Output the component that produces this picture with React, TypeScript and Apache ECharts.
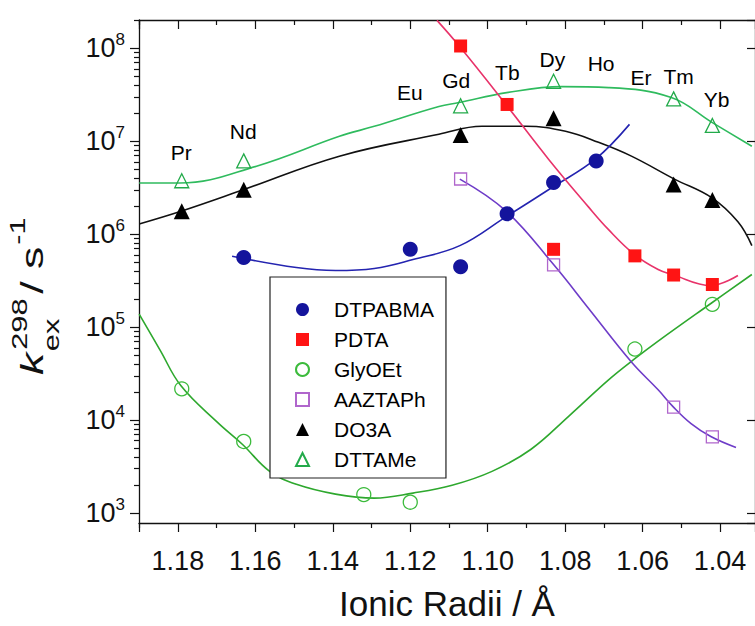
import React, { useEffect, useRef } from "react";
import * as echarts from "echarts";

// ---------- data ----------
const labelNames = ["Pr", "Nd", "Eu", "Gd", "Tb", "Dy", "Ho", "Er", "Tm", "Yb"];
const labelRadii = [1.179, 1.163, 1.12, 1.108, 1.0948, 1.0832, 1.0706, 1.0603, 1.0506, 1.0408];
const labelY = [7.45e6, 1.25e7, 3.34e7, 4.49e7, 5.47e7, 7.54e7, 6.83e7, 4.83e7, 4.95e7, 2.81e7];

const dtpabmaX = [1.163, 1.12, 1.107, 1.095, 1.083, 1.072];
const dtpabmaY = [5.61e5, 6.88e5, 4.46e5, 1.66e6, 3.6e6, 6.15e6];
const pdtaX = [1.107, 1.095, 1.083, 1.062, 1.052, 1.042];
const pdtaY = [1.06e8, 2.49e7, 6.88e5, 5.85e5, 3.64e5, 2.88e5];
const glyX = [1.179, 1.163, 1.132, 1.12, 1.062, 1.042];
const glyY = [2.17e4, 5.89e3, 1.58e3, 1.31e3, 5.82e4, 1.76e5];
const aazX = [1.107, 1.083, 1.052, 1.042];
const aazY = [3.93e6, 4.69e5, 1.38e4, 6.61e3];
const do3aX = [1.179, 1.163, 1.107, 1.083, 1.052, 1.042];
const do3aY = [1.77e6, 3.01e6, 1.17e7, 1.77e7, 3.43e6, 2.33e6];
const dttaX = [1.179, 1.163, 1.107, 1.083, 1.052, 1.042];
const dttaY = [3.76e6, 6.15e6, 2.41e7, 4.42e7, 2.86e7, 1.48e7];

// fitted curves
const fitDtpabmaX = [1.166, 1.1494, 1.1393, 1.1293, 1.1193, 1.1072, 1.0953, 1.0832, 1.0722, 1.0634];
const fitDtpabmaY = [5.8e5, 4.38e5, 4.07e5, 4.28e5, 5.34e5, 7.54e5, 1.54e6, 3.22e6, 6.42e6, 1.52e7];
const fitPdtaX = [1.1131, 1.1072, 1.0953, 1.0843, 1.074, 1.0688, 1.0621, 1.056, 1.0524, 1.0424, 1.0354];
const fitPdtaY = [2.0e8, 1.04e8, 2.49e7, 6.42e6, 1.97e6, 1.12e6, 6.04e5, 4.17e5, 3.69e5, 2.81e5, 3.6e5];
const fitGlyX = [1.19, 1.1846, 1.1792, 1.1697, 1.1633, 1.1563, 1.1494, 1.1393, 1.1293, 1.1193, 1.1092, 1.0989, 1.0889, 1.0789, 1.0688, 1.0621, 1.056, 1.0423, 1.0318];
const fitGlyY = [1.38e5, 5.67e4, 2.34e4, 9.4e3, 5.47e3, 2.81e3, 2.04e3, 1.6e3, 1.45e3, 1.64e3, 1.99e3, 2.81e3, 4.83e3, 1.12e4, 2.71e4, 4.55e4, 7.08e4, 1.81e5, 3.69e5];
const fitAazX = [1.1072, 1.0953, 1.083, 1.074, 1.0629, 1.056, 1.0521, 1.0475, 1.0424, 1.0359];
const fitAazY = [3.92e6, 1.78e6, 4.72e5, 1.6e5, 4.22e4, 2.12e4, 1.39e4, 9.18e3, 6.66e3, 5.08e3];
const fitDo3aX = [1.19, 1.179, 1.1633, 1.1383, 1.1126, 1.1015, 1.0902, 1.0799, 1.0714, 1.0629, 1.0518, 1.0421, 1.0354, 1.0318];
const fitDo3aY = [1.29e6, 1.78e6, 2.99e6, 6.92e6, 1.19e7, 1.45e7, 1.45e7, 1.28e7, 9.75e6, 6.92e6, 3.92e6, 2.46e6, 1.36e6, 7.54e5];
const fitDttaX = [1.19, 1.1795, 1.1597, 1.1383, 1.1293, 1.1126, 1.1074, 1.0951, 1.0809, 1.0688, 1.0526, 1.0421, 1.0318];
const fitDttaY = [3.56e6, 3.56e6, 5.4e6, 1.13e7, 1.45e7, 2.37e7, 2.61e7, 3.34e7, 3.87e7, 3.78e7, 2.96e7, 1.6e7, 8.85e6];

const xMin = 1.03099;
const xMax = 1.19004;
const yMin = 782;
const yMax = 2.018e8;
const minorY = [2e3, 3e3, 4e3, 5e3, 6e3, 7e3, 8e3, 9e3, 2e4, 3e4, 4e4, 5e4, 6e4, 7e4, 8e4, 9e4, 2e5, 3e5, 4e5, 5e5, 6e5, 7e5, 8e5, 9e5, 2e6, 3e6, 4e6, 5e6, 6e6, 7e6, 8e6, 9e6, 2e7, 3e7, 4e7, 5e7, 6e7, 7e7, 8e7, 9e7, 2e8];

const FONT = '"Liberation Sans", Arial, Helvetica, sans-serif';

const zip = (xs: number[], ys: number[]) => xs.map((x, i) => [x, ys[i]]);

export default function App() {
  const ref = useRef<HTMLDivElement>(null);
  useEffect(() => {
    if (!ref.current) return;
    const chart = echarts.init(ref.current, null, { renderer: "svg" });
    const axisLine = { show: true, lineStyle: { color: "#111", width: 1.3 } };
    const baseX = {
      type: "value" as const,
      min: xMin,
      max: xMax,
      inverse: true,
      splitNumber: 8,
      splitLine: { show: false },
      axisLine,
    };
    const baseY = {
      type: "log" as const,
      logBase: 10,
      min: yMin,
      max: yMax,
      splitLine: { show: false },
      axisLine,
    };
    const fitLine = (name: string, xs: number[], ys: number[], color: string) => ({
      name,
      type: "line",
      data: zip(xs, ys),
      smooth: 0.4,
      showSymbol: false,
      symbol: "none",
      lineStyle: { color, width: 1.6 },
      z: 2,
      silent: true,
    });
    const marks = (name: string, xs: number[], ys: number[], symbol: string, size: number, fill: string, border: string, bw: number) => ({
      name,
      type: "scatter",
      data: zip(xs, ys),
      symbol,
      symbolSize: size,
      itemStyle: { color: fill, borderColor: border, borderWidth: bw, opacity: 1 },
      z: 5,
    });
    const option: any = {
      animation: false,
      backgroundColor: "#fff",
      grid: { left: 139, right: -2, top: 20, bottom: 100, containLabel: false },
      xAxis: [
        {
          ...baseX,
          position: "bottom",
          axisTick: { show: true, inside: false, length: 9, lineStyle: { color: "#111", width: 1.2 } },
          minorTick: { show: true, splitNumber: 2, length: 5, lineStyle: { color: "#111", width: 1.2 } },
          axisLabel: {
            show: true,
            showMinLabel: false,
            showMaxLabel: false,
            margin: 24,
            fontFamily: FONT,
            fontSize: 27,
            color: "#111",
            formatter: (v: number) => v.toFixed(2),
          },
          name: "Ionic Radii / Å",
          nameLocation: "middle",
          nameGap: 63,
          nameTextStyle: { fontFamily: FONT, fontSize: 35, color: "#111" },
        },
        {
          ...baseX,
          position: "top",
          axisTick: { show: true, inside: true, length: 9, lineStyle: { color: "#111", width: 1.2 } },
          minorTick: { show: true, splitNumber: 2, length: 5, lineStyle: { color: "#111", width: 1.2 } },
          axisLabel: { show: false },
        },
      ],
      yAxis: [
        {
          ...baseY,
          position: "left",
          axisTick: { show: true, inside: false, length: 9, lineStyle: { color: "#111", width: 1.2 } },
          axisLabel: {
            show: true,
            showMinLabel: false,
            showMaxLabel: false,
            margin: 14,
            color: "#111",
            formatter: (v: number) => `{b|10}{s|${Math.round(Math.log10(v))}}`,
            rich: {
              b: { fontFamily: FONT, fontSize: 27, lineHeight: 34, color: "#111" },
              s: { fontFamily: FONT, fontSize: 17, verticalAlign: "top", lineHeight: 17, color: "#111" },
            },
          },
        },
        {
          ...baseY,
          position: "left",
          axisLine: { show: false },
          axisTick: { show: true, inside: false, length: 5, customValues: minorY, lineStyle: { color: "#111", width: 1.2 } },
          axisLabel: { show: false },
        },
        {
          ...baseY,
          position: "right",
          axisTick: { show: true, inside: true, length: 8, lineStyle: { color: "#111", width: 1.2 } },
          axisLabel: { show: false },
        },
      ],
      legend: {
        orient: "vertical",
        left: 270,
        top: 277,
        padding: [22, 12, 8, 25],
        itemGap: 9,
        itemWidth: 13,
        itemHeight: 13,
        backgroundColor: "#fff",
        borderColor: "#222",
        borderWidth: 1.2,
        borderRadius: 0,
        textStyle: { fontFamily: FONT, fontSize: 21, color: "#000", lineHeight: 20, padding: [0, 0, 0, 20] },
        data: ["DTPABMA", "PDTA", "GlyOEt", "AAZTAPh", "DO3A", "DTTAMe"],
      },
      series: [
        fitLine("fitDTTAMe", fitDttaX, fitDttaY, "#2fbb5e"),
        fitLine("fitDO3A", fitDo3aX, fitDo3aY, "#111111"),
        fitLine("fitGlyOEt", fitGlyX, fitGlyY, "#2ea82e"),
        fitLine("fitDTPABMA", fitDtpabmaX, fitDtpabmaY, "#2424b0"),
        fitLine("fitPDTA", fitPdtaX, fitPdtaY, "#e8336a"),
        fitLine("fitAAZTAPh", fitAazX, fitAazY, "#6e3cc8"),
        marks("DTPABMA", dtpabmaX, dtpabmaY, "circle", 15, "#14149c", "#14149c", 0),
        marks("PDTA", pdtaX, pdtaY, "rect", 13, "#ff1414", "#ff1414", 0),
        marks("GlyOEt", glyX, glyY, "circle", 14, "rgba(0,0,0,0)", "#3cbb3c", 1.3),
        marks("AAZTAPh", aazX, aazY, "rect", 12, "rgba(0,0,0,0)", "#b066cc", 1.3),
        marks("DO3A", do3aX, do3aY, "triangle", 16, "#000", "#000", 0),
        marks("DTTAMe", dttaX, dttaY, "triangle", 14, "rgba(0,0,0,0)", "#22aa4a", 1.3),
        {
          name: "elements",
          type: "scatter",
          symbol: "circle",
          symbolSize: 1,
          silent: true,
          itemStyle: { color: "rgba(0,0,0,0)" },
          data: labelRadii.map((r, i) => ({ value: [r, labelY[i]], name: labelNames[i] })),
          label: {
            show: true,
            position: [0, 0],
            align: "center",
            verticalAlign: "middle",
            formatter: (p: any) => p.name,
            fontFamily: FONT,
            fontSize: 21,
            color: "#000",
            opacity: 1,
            textBorderWidth: 0,
          },
          z: 6,
        },
      ],
      graphic: [
        {
          type: "group",
          x: 0,
          y: 375,
          rotation: Math.PI / 2,
          scaleX: 1.4,
          children: [
            { type: "text", x: 0, y: 32, style: { text: "k", font: `italic 32px ${FONT}`, fill: "#111", verticalAlign: "middle", align: "left" } },
            { type: "text", x: 18, y: 20, style: { text: "298", font: `22px ${FONT}`, fill: "#111", verticalAlign: "middle", align: "left" } },
            { type: "text", x: 17, y: 52, style: { text: "ex", font: `22px ${FONT}`, fill: "#111", verticalAlign: "middle", align: "left" } },
            { type: "text", x: 58, y: 32, style: { text: "/ s", font: `32px ${FONT}`, fill: "#111", verticalAlign: "middle", align: "left" } },
            { type: "text", x: 93, y: 18, style: { text: "-1", font: `22px ${FONT}`, fill: "#111", verticalAlign: "middle", align: "left" } },
          ],
        },
      ],
    };
    chart.setOption(option);
    return () => chart.dispose();
  }, []);
  return <div ref={ref} style={{ position: "fixed", left: 0, top: 0, width: 755, height: 626 }} />;
}
